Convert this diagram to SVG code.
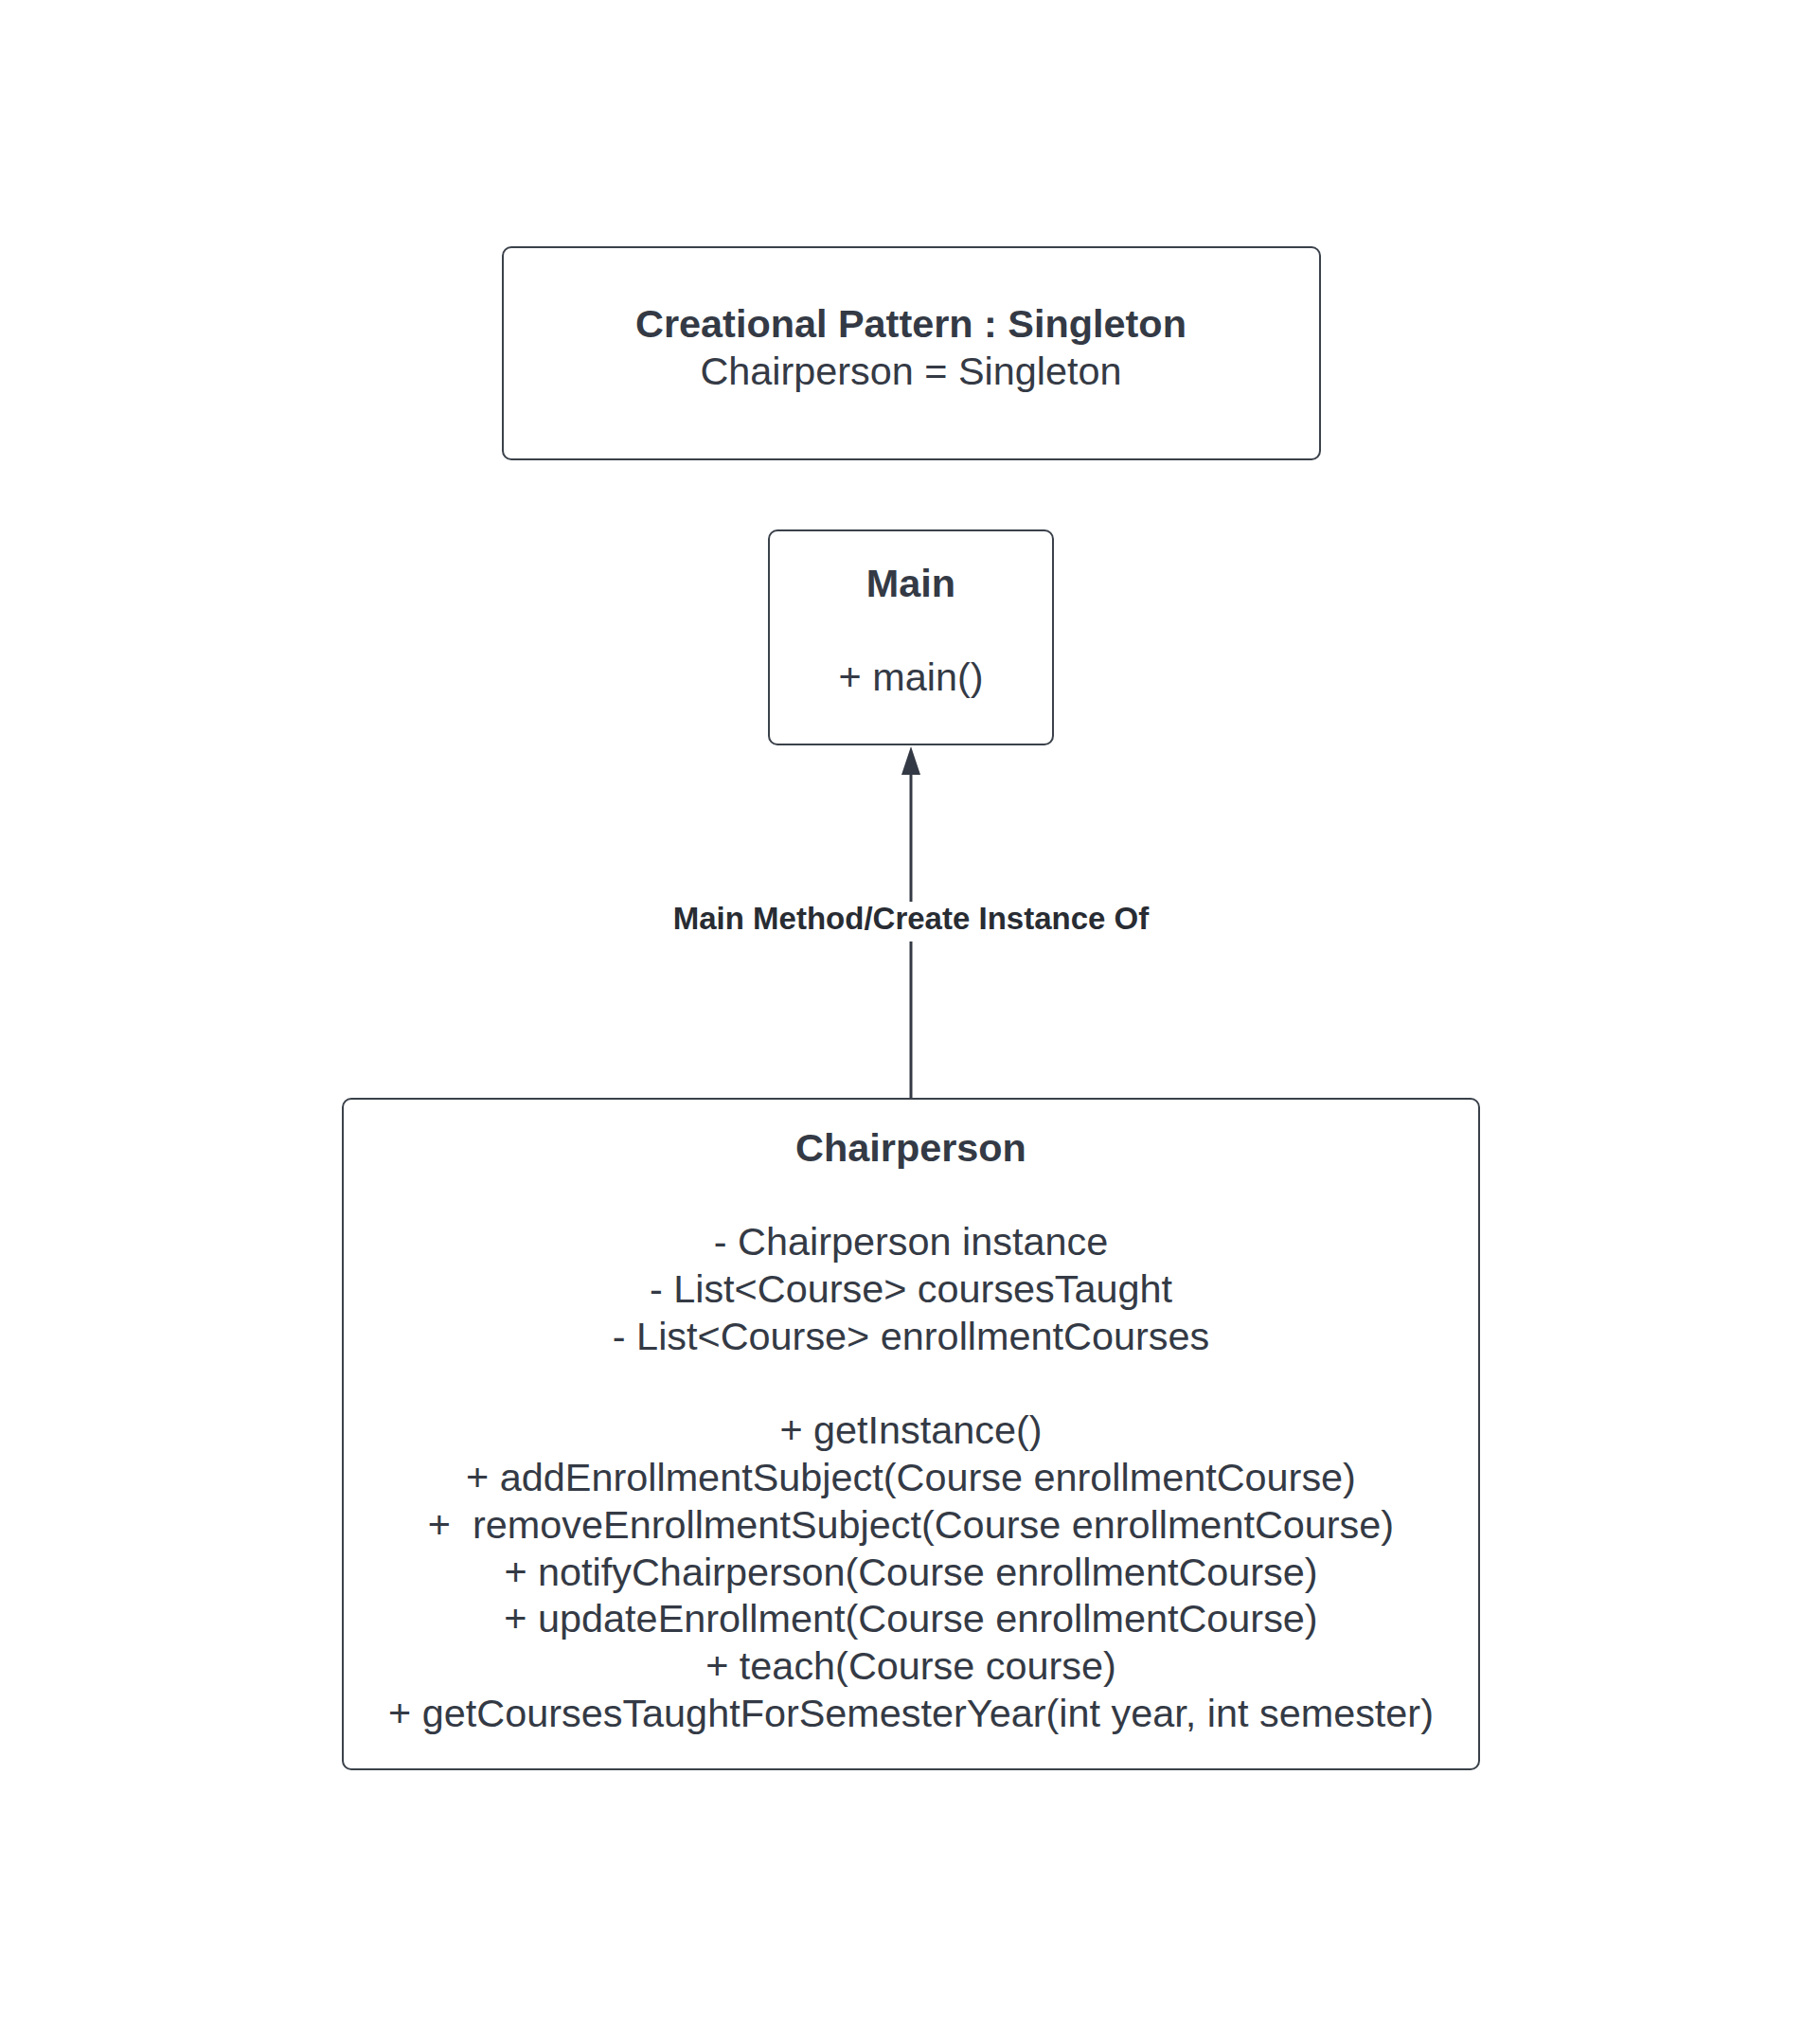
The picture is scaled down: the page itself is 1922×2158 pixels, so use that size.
<svg xmlns="http://www.w3.org/2000/svg" width="1922" height="2158" viewBox="0 0 1922 2158">
<style>
.box{fill:#ffffff;stroke:#3a414a;stroke-width:2}
.t{font-family:"Liberation Sans",Arial,sans-serif;font-size:41.4px;fill:#343a45;text-anchor:middle;white-space:pre}
.b{font-weight:bold}
.lbl{font-family:"Liberation Sans",Arial,sans-serif;font-size:33px;font-weight:bold;fill:#282c33;text-anchor:middle}
.edge{stroke:#343a45;stroke-width:3;fill:none}
</style>
<rect width="1922" height="2158" fill="#ffffff"/>
<g id="connectors">
<line class="edge" x1="962" y1="1160" x2="962" y2="994"/>
<line class="edge" x1="962" y1="952" x2="962" y2="815"/>
<path d="M952,818 L962,788 L972,818 Z" fill="#343a45"/>
<text class="lbl" x="962" y="981">Main Method/Create Instance Of</text>
</g>
<g id="pattern-note">
<rect class="box" x="531" y="261" width="863" height="224" rx="9"/>
<text class="t b" x="962" y="356">Creational Pattern : Singleton</text>
<text class="t" x="962" y="406">Chairperson = Singleton</text>
</g>
<g id="main">
<rect class="box" x="812" y="560" width="300" height="226" rx="9"/>
<text class="t b" x="962" y="630">Main</text>
<text class="t" x="962" y="729">+ main()</text>
</g>
<g id="chairperson">
<rect class="box" x="362" y="1160" width="1200" height="708" rx="9"/>
<text class="t b" x="962" y="1226">Chairperson</text>
<text class="t" x="962" y="1325">- Chairperson instance</text>
<text class="t" x="962" y="1375">- List&lt;Course&gt; coursesTaught</text>
<text class="t" x="962" y="1425">- List&lt;Course&gt; enrollmentCourses</text>
<text class="t" x="962" y="1524">+ getInstance()</text>
<text class="t" x="962" y="1574">+ addEnrollmentSubject(Course enrollmentCourse)</text>
<text class="t" x="962" y="1624" xml:space="preserve">+  removeEnrollmentSubject(Course enrollmentCourse)</text>
<text class="t" x="962" y="1674">+ notifyChairperson(Course enrollmentCourse)</text>
<text class="t" x="962" y="1723">+ updateEnrollment(Course enrollmentCourse)</text>
<text class="t" x="962" y="1773">+ teach(Course course)</text>
<text class="t" x="962" y="1823">+ getCoursesTaughtForSemesterYear(int year, int semester)</text>
</g>
</svg>
